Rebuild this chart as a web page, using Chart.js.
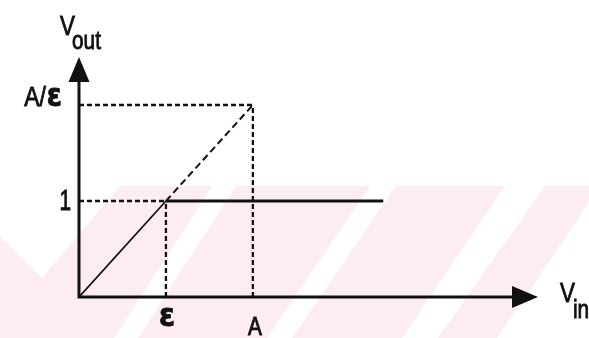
<!DOCTYPE html>
<html>
<head>
<meta charset="utf-8">
<script src="https://cdn.jsdelivr.net/npm/chart.js@4/dist/chart.umd.min.js"></script>
<style>
  html, body { margin: 0; padding: 0; background: #fff; }
  #wrap { width: 589px; height: 338px; }
</style>
</head>
<body>
<div id="wrap"><canvas id="transferChart" width="589" height="338"></canvas></div>
<script>
// Limiter transfer curve: V_out against V_in
const inputMarks = [1, 2];              // ε, A on the V_in axis
const inputLabels = ['ε', 'A'];
const outputMarks = [1, 2];             // 1, A/ε on the V_out axis
const outputLabels = ['1', 'A/ε'];

const rampX = [0, 1];                   // linear part up to ε
const rampY = [0, 1];
const clampX = [1, 3.5];                // saturated at 1
const clampY = [1, 1];
const idealX = [1, 2];                  // unlimited gain continued to A
const idealY = [1, 2];

const X_MAX = 5.28;
const Y_MAX = 2.5;

const INK = '#111';
const SANS = '"Liberation Sans", Arial, sans-serif';

const toPoints = (xs, ys) => xs.map((x, i) => ({ x: x, y: ys[i] }));

function guideLines() {
    const sets = [];
    inputMarks.forEach((x, i) => {
        const y = outputMarks[i];
        sets.push({ data: [{ x: 0, y: y }, { x: x, y: y }] });
        sets.push({ data: [{ x: x, y: 0 }, { x: x, y: y }] });
    });
    return sets.map(s => Object.assign(s, {
        borderColor: INK,
        borderWidth: 2.3,
        borderDash: [5, 3],
        pointRadius: 0,
        showLine: true
    }));
}

// narrow, slightly heavy lettering
function label(c, text, x, y, font, align, base, squeeze) {
    c.save();
    c.translate(x, y);
    c.scale(squeeze, 1);
    c.font = font;
    c.textAlign = align;
    c.textBaseline = base;
    c.lineWidth = 0.9;
    c.strokeStyle = INK;
    c.fillStyle = INK;
    c.fillText(text, 0, 0);
    c.strokeText(text, 0, 0);
    const w = c.measureText(text).width * squeeze;
    c.restore();
    return w;
}

// faint striped stamp behind the lower half
const stampPlugin = {
    id: 'stamp',
    beforeDraw(chart) {
        const c = chart.ctx;
        c.save();
        c.fillStyle = '#fff';
        c.fillRect(0, 0, chart.width, chart.height);
        c.fillStyle = '#fdedf0';
        c.fillRect(0, 186, chart.width, chart.height - 186);
        c.fillStyle = '#fff';
        const polys = [
            [[0, 186], [120, 186], [42, 278], [0, 237]],
            [[212, 186], [236, 186], [138, 338], [114, 338]],
            [[370, 186], [396, 186], [292, 338], [267, 338]],
            [[505, 186], [545, 186], [438, 338], [402, 338]],
            [[600, 186], [620, 186], [620, 338], [497, 338]]
        ];
        polys.forEach(p => {
            c.beginPath();
            c.moveTo(p[0][0], p[0][1]);
            p.slice(1).forEach(pt => c.lineTo(pt[0], pt[1]));
            c.closePath();
            c.fill();
        });
        c.restore();
    }
};

// axes with arrow heads and their labels
const axesPlugin = {
    id: 'axesArrows',
    afterDatasetsDraw(chart) {
        const c = chart.ctx;
        const xs = chart.scales.x;
        const ys = chart.scales.y;
        const x0 = xs.getPixelForValue(0);
        const y0 = ys.getPixelForValue(0);
        const xEnd = xs.getPixelForValue(X_MAX);
        const yEnd = ys.getPixelForValue(Y_MAX);

        c.save();
        c.strokeStyle = INK;
        c.fillStyle = INK;
        c.lineWidth = 3;
        c.lineCap = 'square';
        c.beginPath();
        c.moveTo(x0, y0);
        c.lineTo(xEnd - 20, y0);
        c.moveTo(x0, y0);
        c.lineTo(x0, yEnd + 20);
        c.stroke();

        c.beginPath();
        c.moveTo(xEnd, y0);
        c.lineTo(xEnd - 26, y0 - 11);
        c.lineTo(xEnd - 26, y0 + 11);
        c.closePath();
        c.fill();

        c.beginPath();
        c.moveTo(x0, yEnd);
        c.lineTo(x0 - 10.5, yEnd + 25);
        c.lineTo(x0 + 10.5, yEnd + 25);
        c.closePath();
        c.fill();
        c.restore();

        // axis titles
        label(c, 'V', x0 - 19, 13, '28px ' + SANS, 'left', 'top', 0.8);
        label(c, 'out', x0 - 7, 29, '26px ' + SANS, 'left', 'top', 0.8);
        label(c, 'V', xEnd + 22, 280, '28px ' + SANS, 'left', 'top', 0.8);
        label(c, 'in', xEnd + 35, 298, '26px ' + SANS, 'left', 'top', 0.8);

        // V_out marks
        label(c, outputLabels[0], x0 - 8, ys.getPixelForValue(outputMarks[0]) + 1,
              '29px ' + SANS, 'right', 'middle', 0.72);
        const yTop = ys.getPixelForValue(outputMarks[1]) + 1;
        const epsW = label(c, 'ε', x0 - 17, yTop,
                           'bold 32px "DejaVu Sans", sans-serif', 'right', 'alphabetic', 0.85);
        label(c, 'A/', x0 - 17 - epsW - 1, yTop, '27px ' + SANS, 'right', 'alphabetic', 0.85);

        // V_in marks
        label(c, inputLabels[0], xs.getPixelForValue(inputMarks[0]) + 1, 326,
              'bold 32px "DejaVu Sans", sans-serif', 'center', 'alphabetic', 0.9);
        label(c, inputLabels[1], xs.getPixelForValue(inputMarks[1]) + 2, 335,
              '26px ' + SANS, 'center', 'alphabetic', 0.8);
    }
};

const datasets = [
    {
        data: toPoints(idealX, idealY),
        borderColor: INK,
        borderWidth: 2,
        borderDash: [7, 4],
        pointRadius: 0,
        showLine: true
    },
    ...guideLines(),
    {
        data: toPoints(rampX, rampY),
        borderColor: INK,
        borderWidth: 1.8,
        pointRadius: 0,
        showLine: true
    },
    {
        data: toPoints(clampX, clampY),
        borderColor: INK,
        borderWidth: 3,
        pointRadius: 0,
        showLine: true
    }
];

new Chart(document.getElementById('transferChart'), {
    type: 'scatter',
    data: { datasets: datasets },
    options: {
        responsive: false,
        animation: false,
        layout: { padding: { left: 79, right: 51, top: 57, bottom: 41 } },
        plugins: {
            legend: { display: false },
            tooltip: { enabled: false }
        },
        scales: {
            x: { type: 'linear', min: 0, max: X_MAX, display: false },
            y: { type: 'linear', min: 0, max: Y_MAX, display: false }
        }
    },
    plugins: [stampPlugin, axesPlugin]
});
</script>
</body>
</html>
